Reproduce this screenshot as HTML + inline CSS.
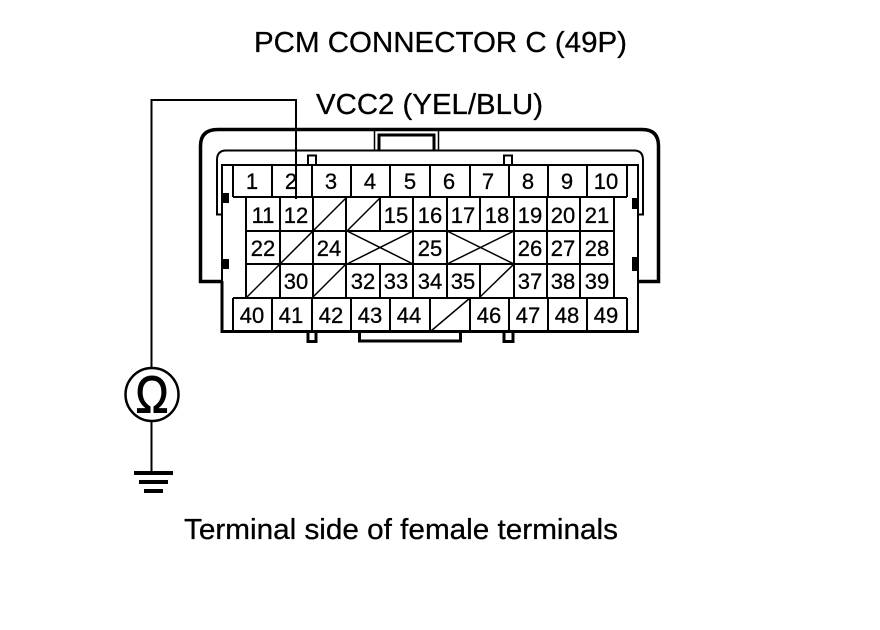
<!DOCTYPE html>
<html>
<head>
<meta charset="utf-8">
<style>
html,body{margin:0;padding:0;background:#fff}
svg{display:block}
text{font-family:"Liberation Sans",sans-serif;fill:#000;stroke:#000;stroke-width:.3}
.n{font-size:22px;text-anchor:middle}
.t{font-size:29px}
</style>
</head>
<body>
<svg width="880" height="630" viewBox="0 0 880 630" xmlns="http://www.w3.org/2000/svg">
<rect width="880" height="630" fill="#fff"/>

<text class="t" x="254" y="52" textLength="373" lengthAdjust="spacingAndGlyphs">PCM CONNECTOR C (49P)</text>
<text class="t" x="316" y="114" textLength="227" lengthAdjust="spacingAndGlyphs">VCC2 (YEL/BLU)</text>
<text class="t" x="184" y="539" textLength="434" lengthAdjust="spacingAndGlyphs">Terminal side of female terminals</text>

<path d="M222 281.500H200.500V146Q200.500 129.500 218 129.500H642Q658.500 129.500 658.500 146V281.500H638" fill="none" stroke="#000" stroke-width="3.500"/>
<path d="M374.500 129V150M438.500 129V150" fill="none" stroke="#000" stroke-width="1.500"/>
<path d="M379 150V135H434V150" fill="none" stroke="#000" stroke-width="3"/>
<path d="M221 214.500H217V160Q217 150.500 226 150.500H634Q643 150.500 643 160V214.500H639" fill="none" stroke="#000" stroke-width="2"/>
<path d="M308 165V155.500H316V165M504 165V155.500H512V165" fill="#fff" stroke="#000" stroke-width="2"/>
<path d="M308 331V341.500H316V331M504 331V341.500H513V331" fill="#fff" stroke="#000" stroke-width="3"/>
<path d="M359.500 331V341H460.500V331" fill="none" stroke="#000" stroke-width="3"/>

<rect x="222" y="165" width="416" height="166" fill="#fff" stroke="#000" stroke-width="2"/>
<path d="M222 281V331.500H639" fill="none" stroke="#000" stroke-width="3"/>
<rect x="221" y="193" width="8" height="10" fill="#000"/>
<rect x="221" y="259" width="8" height="10" fill="#000"/>
<rect x="632" y="198" width="7" height="11" fill="#000"/>
<rect x="632" y="257" width="7" height="14" fill="#000"/>

<g fill="none" stroke="#000" stroke-width="2" shape-rendering="crispEdges">
<path d="M233 165V197M272 165V197M312 165V197M351 165V197M390 165V197M430 165V197M470 165V197M509 165V197M548 165V197M587 165V197M627 165V197"/>
<path d="M233 197H627"/>
<path d="M246 197V298M614 197V298"/>
<path d="M246 231H614M246 264H614M233 298H627"/>
<path d="M280 197V298M313 197V298M346 197V298M380 197V231M380 264V298M413 197V298M447 197V298M480 197V231M480 264V298M514 197V298M547 197V298M580 197V298"/>
<path d="M233 298V331M272 298V331M312 298V331M351 298V331M390 298V331M430 298V331M470 298V331M509 298V331M548 298V331M587 298V331M627 298V331"/>
</g>

<g fill="none" stroke="#000" stroke-width="1.500">
<path d="M247 297L346 198"/>
<path d="M347 231L380 198"/>
<path d="M313 297L346 264"/>
<path d="M347 231L413 264M347 264L413 231"/>
<path d="M447 231L514 264M447 264L514 231"/>
<path d="M480 297L514 264"/>
<path d="M431 331L470 298"/>
</g>

<text class="n" x="252" y="189">1</text>
<text class="n" x="291" y="189">2</text>
<text class="n" x="331" y="189">3</text>
<text class="n" x="370" y="189">4</text>
<text class="n" x="410" y="189">5</text>
<text class="n" x="449" y="189">6</text>
<text class="n" x="488" y="189">7</text>
<text class="n" x="528" y="189">8</text>
<text class="n" x="567" y="189">9</text>
<text class="n" x="606" y="189">10</text>
<text class="n" x="263" y="223">11</text>
<text class="n" x="296" y="223">12</text>
<text class="n" x="396" y="223">15</text>
<text class="n" x="430" y="223">16</text>
<text class="n" x="463" y="223">17</text>
<text class="n" x="497" y="223">18</text>
<text class="n" x="530" y="223">19</text>
<text class="n" x="563" y="223">20</text>
<text class="n" x="597" y="223">21</text>
<text class="n" x="263" y="256">22</text>
<text class="n" x="329" y="256">24</text>
<text class="n" x="430" y="256">25</text>
<text class="n" x="530" y="256">26</text>
<text class="n" x="563" y="256">27</text>
<text class="n" x="597" y="256">28</text>
<text class="n" x="296" y="289">30</text>
<text class="n" x="363" y="289">32</text>
<text class="n" x="396" y="289">33</text>
<text class="n" x="430" y="289">34</text>
<text class="n" x="463" y="289">35</text>
<text class="n" x="530" y="289">37</text>
<text class="n" x="563" y="289">38</text>
<text class="n" x="597" y="289">39</text>
<text class="n" x="252" y="323">40</text>
<text class="n" x="291" y="323">41</text>
<text class="n" x="331" y="323">42</text>
<text class="n" x="370" y="323">43</text>
<text class="n" x="409" y="323">44</text>
<text class="n" x="489" y="323">46</text>
<text class="n" x="528" y="323">47</text>
<text class="n" x="567" y="323">48</text>
<text class="n" x="606" y="323">49</text>

<path d="M296 199V100H151.500V369" fill="none" stroke="#000" stroke-width="2"/>
<circle cx="152" cy="394.500" r="26.500" fill="#fff" stroke="#000" stroke-width="2.500"/>
<text transform="translate(152 412.500) scale(.85 1)" text-anchor="middle" style="font-size:52px;stroke-width:1">Ω</text>
<path d="M151.500 421V472" fill="none" stroke="#000" stroke-width="2"/>
<rect x="134" y="471" width="39" height="4" fill="#000"/>
<rect x="139" y="480" width="29" height="4" fill="#000"/>
<rect x="144" y="489" width="19" height="4" fill="#000"/>
</svg>
</body>
</html>
